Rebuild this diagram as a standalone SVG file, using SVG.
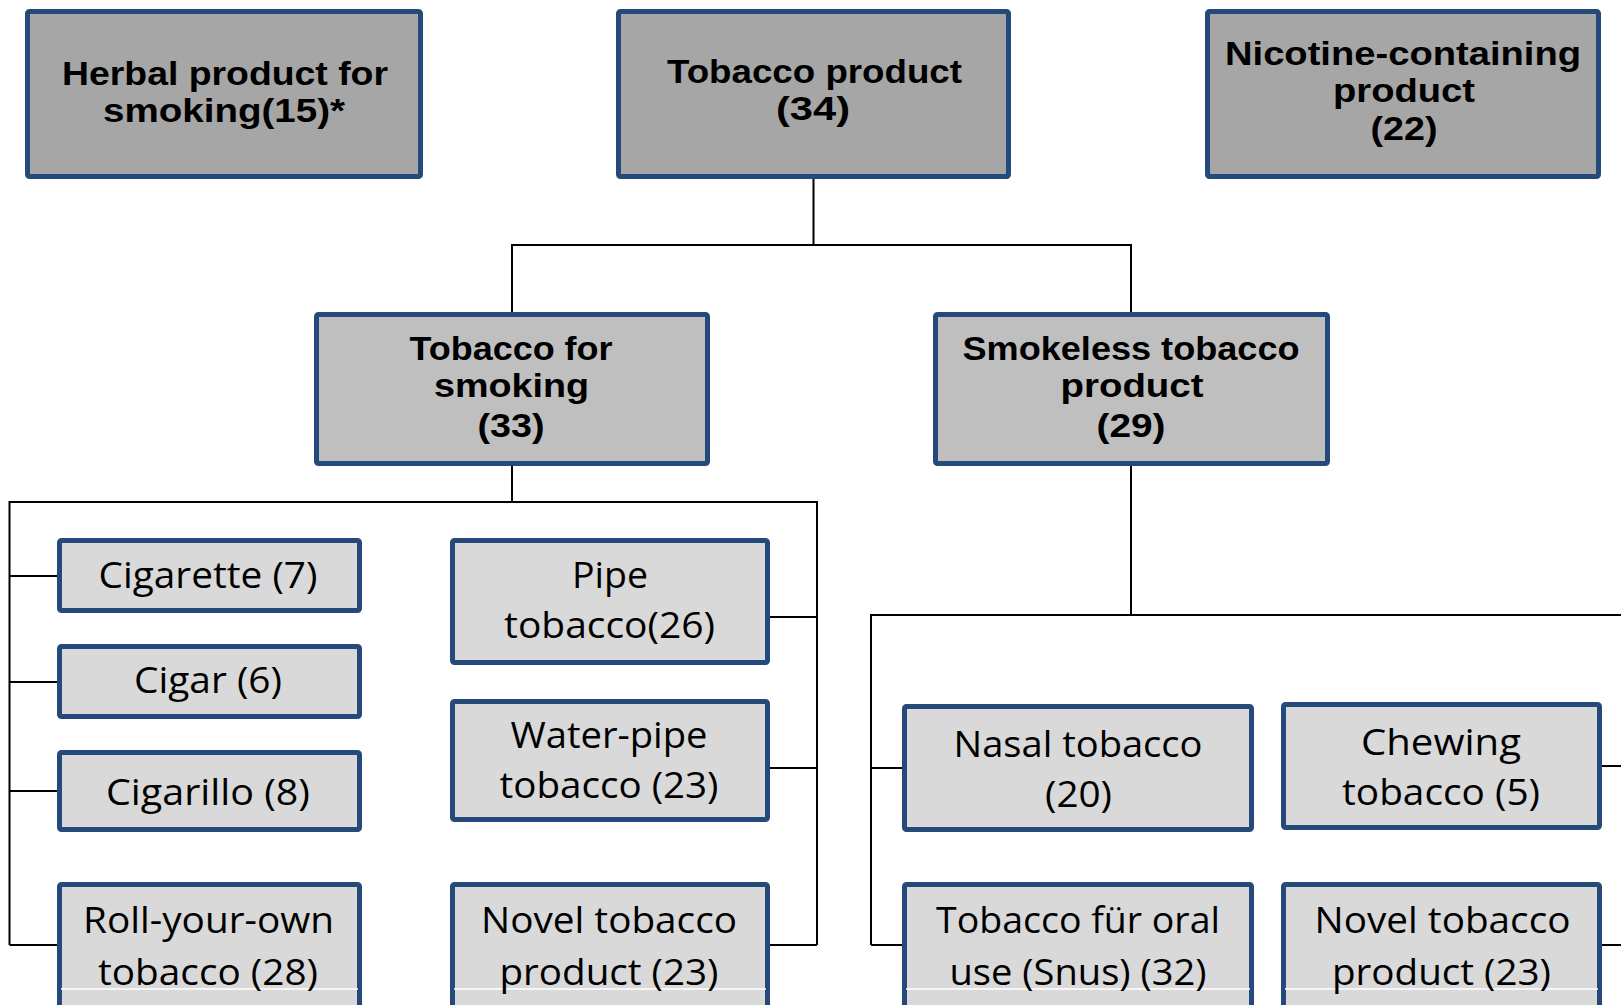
<svg xmlns="http://www.w3.org/2000/svg" width="1621" height="1005" viewBox="0 0 1621 1005">
<style>
.box{stroke:#24497a;stroke-width:5}
.l1{fill:#a6a6a6}.l2{fill:#bfbfbf}.l3{fill:#d9d9d9}
.b{font-family:"Liberation Sans",Arial,sans-serif;font-weight:bold;font-size:33px;fill:#000;text-anchor:middle}
.r{font-family:"Open Sans","Noto Sans",sans-serif;font-size:37px;fill:#000;text-anchor:middle}
.wl{stroke:#ffffff;stroke-width:1.5}
.conn{fill:none;stroke:#000;stroke-width:2}
</style>
<rect width="1621" height="1005" fill="#fff"/>
<g id="connectors" class="conn">
<path d="M813.5,179V245M512,312V245H1131V312"/>
<path d="M512,466V502M9.5,502H817M9.5,501V945M817,501V945"/>
<path d="M9.5,576H57M9.5,682H57M9.5,791H57M9.5,945H57"/>
<path d="M770,617H817M770,768H817M770,945H817"/>
<path d="M1131,466V615M870,615H1621M871,614V945"/>
<path d="M871,768H902M871,945H902M1602,766H1621M1602,945H1621"/>
</g>
<g id="herbal">
<rect class="box l1" x="27.5" y="11.5" width="393" height="165" rx="2"/>
<text class="b" x="225" y="85" textLength="326" lengthAdjust="spacingAndGlyphs">Herbal product for</text>
<text class="b" x="224" y="122" textLength="242" lengthAdjust="spacingAndGlyphs">smoking(15)*</text>
</g>
<g id="tobacco-product">
<rect class="box l1" x="618.5" y="11.5" width="390" height="165" rx="2"/>
<text class="b" x="814.5" y="83" textLength="295" lengthAdjust="spacingAndGlyphs">Tobacco product</text>
<text class="b" x="813" y="120" textLength="74" lengthAdjust="spacingAndGlyphs">(34)</text>
</g>
<g id="nicotine">
<rect class="box l1" x="1207.5" y="11.5" width="391" height="165" rx="2"/>
<text class="b" x="1403" y="65" textLength="356" lengthAdjust="spacingAndGlyphs">Nicotine-containing</text>
<text class="b" x="1404" y="102" textLength="142" lengthAdjust="spacingAndGlyphs">product</text>
<text class="b" x="1404" y="140" textLength="67" lengthAdjust="spacingAndGlyphs">(22)</text>
</g>
<g id="tobacco-for-smoking">
<rect class="box l2" x="316.5" y="314.5" width="391" height="149" rx="2"/>
<text class="b" x="511" y="360" textLength="203" lengthAdjust="spacingAndGlyphs">Tobacco for</text>
<text class="b" x="511.5" y="397" textLength="155" lengthAdjust="spacingAndGlyphs">smoking</text>
<text class="b" x="511" y="437" textLength="67" lengthAdjust="spacingAndGlyphs">(33)</text>
</g>
<g id="smokeless">
<rect class="box l2" x="935.5" y="314.5" width="392" height="149" rx="2"/>
<text class="b" x="1131" y="360" textLength="337" lengthAdjust="spacingAndGlyphs">Smokeless tobacco</text>
<text class="b" x="1132" y="397" textLength="143" lengthAdjust="spacingAndGlyphs">product</text>
<text class="b" x="1131" y="437" textLength="69" lengthAdjust="spacingAndGlyphs">(29)</text>
</g>
<g id="cigarette">
<rect class="box l3" x="59.5" y="540.5" width="300" height="70" rx="2"/>
<text class="r" x="208" y="588" textLength="219" lengthAdjust="spacingAndGlyphs">Cigarette (7)</text>
</g>
<g id="cigar">
<rect class="box l3" x="59.5" y="646.5" width="300" height="70" rx="2"/>
<text class="r" x="208" y="693" textLength="148" lengthAdjust="spacingAndGlyphs">Cigar (6)</text>
</g>
<g id="cigarillo">
<rect class="box l3" x="59.5" y="752.5" width="300" height="77" rx="2"/>
<text class="r" x="208" y="805" textLength="204" lengthAdjust="spacingAndGlyphs">Cigarillo (8)</text>
</g>
<g id="roll-your-own">
<rect class="box l3" x="59.5" y="884.5" width="300" height="140" rx="2"/>
<line class="wl" x1="61" y1="989" x2="358" y2="989"/>
<text class="r" x="208.5" y="933" textLength="251" lengthAdjust="spacingAndGlyphs">Roll-your-own</text>
<text class="r" x="208" y="985" textLength="220" lengthAdjust="spacingAndGlyphs">tobacco (28)</text>
</g>
<g id="pipe">
<rect class="box l3" x="452.5" y="540.5" width="315" height="122" rx="2"/>
<text class="r" x="610" y="588" textLength="76" lengthAdjust="spacingAndGlyphs">Pipe</text>
<text class="r" x="609.5" y="638" textLength="211" lengthAdjust="spacingAndGlyphs">tobacco(26)</text>
</g>
<g id="water-pipe">
<rect class="box l3" x="452.5" y="701.5" width="315" height="118" rx="2"/>
<text class="r" x="609" y="748" textLength="197" lengthAdjust="spacingAndGlyphs">Water-pipe</text>
<text class="r" x="609" y="798" textLength="219" lengthAdjust="spacingAndGlyphs">tobacco (23)</text>
</g>
<g id="novel-smoking">
<rect class="box l3" x="452.5" y="884.5" width="315" height="140" rx="2"/>
<line class="wl" x1="454" y1="989" x2="766" y2="989"/>
<text class="r" x="609" y="933" textLength="256" lengthAdjust="spacingAndGlyphs">Novel tobacco</text>
<text class="r" x="609" y="985" textLength="219" lengthAdjust="spacingAndGlyphs">product (23)</text>
</g>
<g id="nasal">
<rect class="box l3" x="904.5" y="706.5" width="347" height="123" rx="2"/>
<text class="r" x="1078" y="757" textLength="249" lengthAdjust="spacingAndGlyphs">Nasal tobacco</text>
<text class="r" x="1078.5" y="807" textLength="67" lengthAdjust="spacingAndGlyphs">(20)</text>
</g>
<g id="chewing">
<rect class="box l3" x="1283.5" y="704.5" width="316" height="123" rx="2"/>
<text class="r" x="1441" y="755" textLength="160" lengthAdjust="spacingAndGlyphs">Chewing</text>
<text class="r" x="1441" y="805" textLength="198" lengthAdjust="spacingAndGlyphs">tobacco (5)</text>
</g>
<g id="snus">
<rect class="box l3" x="904.5" y="884.5" width="347" height="140" rx="2"/>
<line class="wl" x1="906" y1="989" x2="1250" y2="989"/>
<text class="r" x="1078" y="933" textLength="284" lengthAdjust="spacingAndGlyphs">Tobacco für oral</text>
<text class="r" x="1078" y="985" textLength="257" lengthAdjust="spacingAndGlyphs">use (Snus) (32)</text>
</g>
<g id="novel-smokeless">
<rect class="box l3" x="1283.5" y="884.5" width="316" height="140" rx="2"/>
<line class="wl" x1="1285" y1="989" x2="1598" y2="989"/>
<text class="r" x="1442.5" y="933" textLength="256" lengthAdjust="spacingAndGlyphs">Novel tobacco</text>
<text class="r" x="1441.5" y="985" textLength="219" lengthAdjust="spacingAndGlyphs">product (23)</text>
</g>
</svg>
